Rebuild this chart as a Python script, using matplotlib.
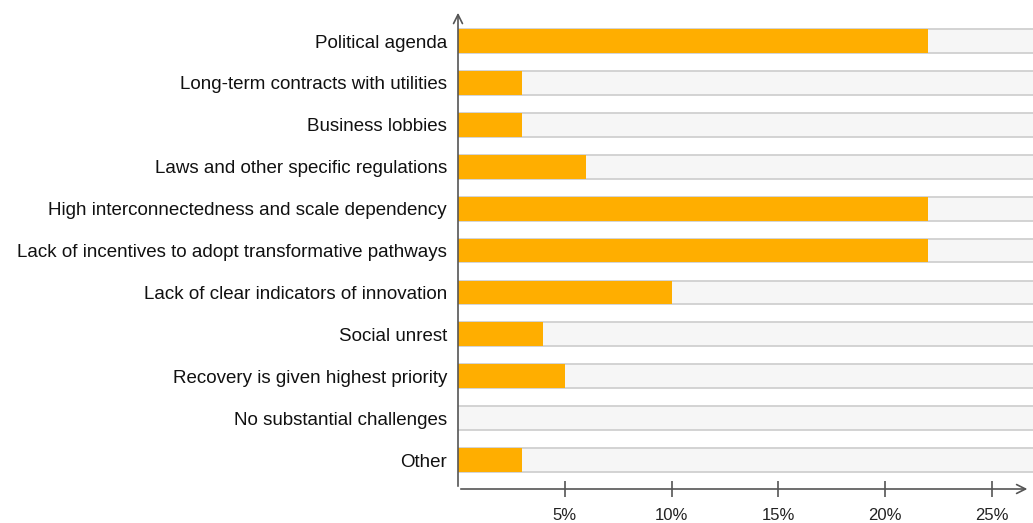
import matplotlib.pyplot as plt

categories = ['Political agenda', 'Long-term contracts with utilities', 'Business lobbies',
              'Laws and other specific regulations', 'High interconnectedness and scale dependency',
              'Lack of incentives to adopt transformative pathways', 'Lack of clear indicators of innovation',
              'Social unrest', 'Recovery is given highest priority', 'No substantial challenges', 'Other']
values = [22, 3, 3, 6, 22, 22, 10, 4, 5, 0, 3]
ticks = [5, 10, 15, 20, 25]
tick_labels = ['5%', '10%', '15%', '20%', '25%']

plt.rcParams['font.family'] = ['Liberation Sans', 'DejaVu Sans']
fig = plt.figure(figsize=(10.33, 5.23), dpi=100)
ax = fig.add_axes([458/1033, 34/523, 1 - 458/1033, (489 - 10)/523])

xmax = 26.93
h = 0.57
ys = [len(categories) - 1 - i for i in range(len(categories))]

# grey background band behind every bar
ax.barh(ys, [xmax] * len(ys), height=h, color='#f6f6f6', zorder=1)
for y in ys:
    ax.hlines([y - h/2, y + h/2], 0, xmax, color='#cccccc', lw=1.2, zorder=2)
ax.barh(ys, values, height=h, color='#ffae00', zorder=3)

ax.set_xlim(0, xmax)
ax.set_ylim(-0.69, 10.74)
ax.set_yticks(ys)
ax.set_yticklabels(categories, fontsize=13.5, color='#111111')
ax.set_xticks(ticks)
ax.set_xticklabels(tick_labels, fontsize=12, color='#222222')
ax.tick_params(axis='y', length=0, pad=8)
ax.tick_params(axis='x', direction='inout', length=11, width=1.2, color='#555555', pad=8)

for s in ax.spines.values():
    s.set_visible(False)

ax.annotate('', xy=(0, 1), xytext=(0, 0), xycoords='axes fraction',
            arrowprops=dict(arrowstyle='->', color='#555555', lw=1.2, mutation_scale=16), annotation_clip=False)
ax.annotate('', xy=(0.995, 0), xytext=(0, 0), xycoords='axes fraction',
            arrowprops=dict(arrowstyle='->', color='#555555', lw=1.2, mutation_scale=16), annotation_clip=False)

fig.savefig('out.png', dpi=100)
